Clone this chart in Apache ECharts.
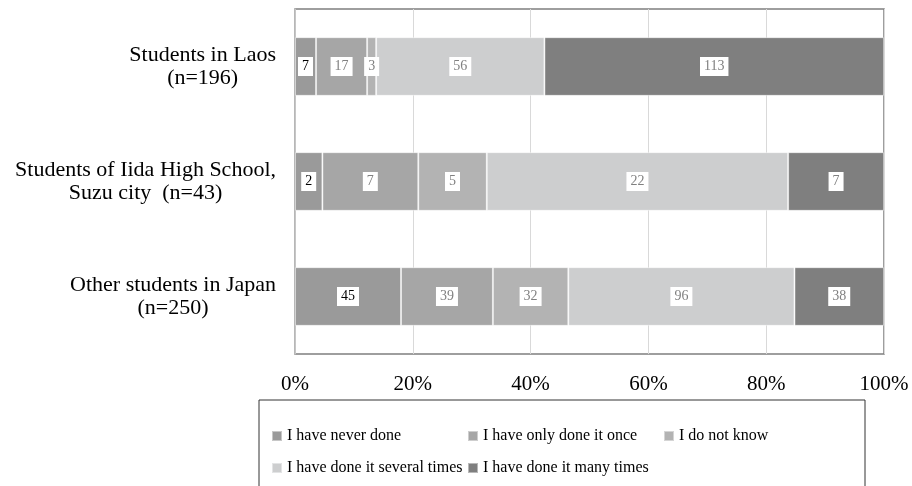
<!DOCTYPE html>
<html>
<head>
<meta charset="utf-8">
<script src="https://cdn.jsdelivr.net/npm/echarts@6/dist/echarts.min.js"></script>
<style>
  html, body { margin: 0; padding: 0; background: #fff; }
  #chart { width: 912px; height: 486px; }
</style>
</head>
<body>
<div id="chart"></div>
<script>
  // groups top to bottom
  var groups = ['Students in Laos\n(n=196)', 'Students of Iida High School,\nSuzu city  (n=43)', 'Other students in Japan\n(n=250)'];
  var answers = ['I have never done', 'I have only done it once', 'I do not know', 'I have done it several times', 'I have done it many times'];
  // counts per group
  var neverDone = [7, 2, 45];
  var doneOnce = [17, 7, 39];
  var notKnow = [3, 5, 32];
  var severalTimes = [56, 22, 96];
  var manyTimes = [113, 7, 38];
  var xTicks = [0, 20, 40, 60, 80, 100];

  var counts = [neverDone, doneOnce, notKnow, severalTimes, manyTimes];
  var colors = ['#9a9a9a', '#a6a6a6', '#b3b3b3', '#cdcecf', '#7f7f7f'];
  var labelColors = ['#000', '#808080', '#808080', '#808080', '#808080'];
  var serif = '"Liberation Serif", "DejaVu Serif", serif';

  var totals = groups.map(function (g, i) {
    var s = 0;
    counts.forEach(function (c) { s += c[i]; });
    return s;
  });

  var series = answers.map(function (name, k) {
    return {
      name: name,
      type: 'bar',
      stack: 'all',
      barWidth: '51%',
      itemStyle: { color: colors[k], borderColor: 'rgba(255,255,255,0.45)', borderWidth: 1 },
      label: {
        show: true,
        position: 'inside',
        formatter: function (p) { return String(counts[k][p.dataIndex]); },
        color: labelColors[k],
        fontFamily: serif,
        fontSize: 14,
        backgroundColor: '#fff',
        padding: [3, 4, 2, 4]
      },
      data: counts[k].map(function (v, i) { return v / totals[i] * 100; })
    };
  });

  var chart = echarts.init(document.getElementById('chart'));
  chart.setOption({
    animation: false,
    color: colors,
    grid: {
      left: 295, right: 28, top: 9, bottom: 132,
      show: true, borderColor: '#7f7f7f', borderWidth: 1.5
    },
    legend: {
      data: answers,
      left: 259, top: 400,
      width: 590,
      itemWidth: 10, itemHeight: 10, itemGap: 0,
      icon: 'rect',
      padding: [20, 6, 30, 12],
      borderColor: '#333', borderWidth: 1,
      textStyle: {
        fontFamily: serif, fontSize: 16, color: '#000',
        width: 180, lineHeight: 32
      }
    },
    xAxis: {
      type: 'value',
      min: xTicks[0], max: xTicks[xTicks.length - 1], interval: 20,
      axisLine: { show: false },
      axisTick: { show: false },
      splitLine: { lineStyle: { color: '#d9d9d9', width: 1 } },
      axisLabel: {
        margin: 20,
        fontFamily: serif, fontSize: 21, color: '#000',
        formatter: '{value}%'
      }
    },
    yAxis: {
      type: 'category',
      inverse: true,
      data: groups,
      axisLine: { lineStyle: { color: '#bfbfbf', width: 1.5 } },
      axisTick: { show: false },
      axisLabel: {
        margin: 19,
        formatter: function (v) {
          return v.split('\n').map(function (l) { return '{c|' + l + '}'; }).join('\n');
        },
        rich: {
          c: { align: 'center', fontFamily: serif, fontSize: 22, lineHeight: 23, color: '#000' }
        }
      }
    },
    series: series
  });
</script>
</body>
</html>
